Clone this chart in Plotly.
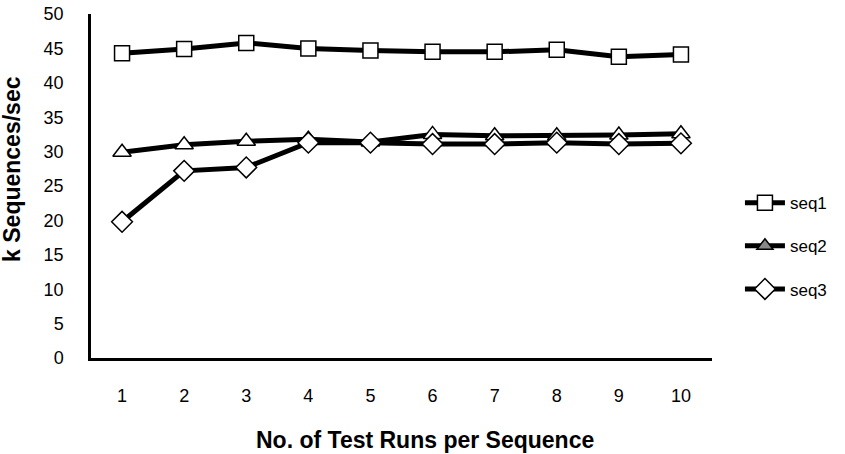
import plotly.graph_objects as go

runs = [1, 2, 3, 4, 5, 6, 7, 8, 9, 10]
seq1 = [44.3, 44.9, 45.8, 45.0, 44.7, 44.5, 44.5, 44.8, 43.8, 44.1]
seq2 = [29.9, 31.0, 31.5, 31.8, 31.4, 32.5, 32.3, 32.3, 32.4, 32.6]
seq3 = [19.8, 27.2, 27.7, 31.3, 31.3, 31.1, 31.1, 31.3, 31.1, 31.2]

x_labels = [str(r) for r in runs]
line_style = dict(color="black", width=5)

fig = go.Figure()

fig.add_trace(go.Scatter(
    x=x_labels, y=seq1, name="seq1", mode="lines+markers",
    line=line_style, legendgroup="g1", legendrank=1,
    marker=dict(symbol="square", size=15, color="white",
                line=dict(color="black", width=1.5)),
))
fig.add_trace(go.Scatter(
    x=x_labels, y=seq2, name="seq2", mode="lines+markers",
    line=line_style, showlegend=False,
    marker=dict(symbol="triangle-up", size=16, color="white",
                line=dict(color="black", width=1.5)),
))
fig.add_trace(go.Scatter(
    x=x_labels, y=seq3, name="seq3", mode="lines+markers",
    line=line_style, legendgroup="g3", legendrank=3,
    marker=dict(symbol="diamond", size=16, color="white",
                line=dict(color="black", width=1.5)),
))
# legend entry for seq2 uses a shaded triangle
fig.add_trace(go.Scatter(
    x=[None], y=[None], name="seq2", mode="lines+markers",
    line=line_style, legendgroup="g2", legendrank=2,
    marker=dict(symbol="triangle-up", size=14, color="#888888",
                line=dict(color="black", width=1.5)),
))

fig.update_layout(
    width=845, height=454,
    margin=dict(l=91, r=133, t=14, b=96, autoexpand=False),
    paper_bgcolor="white", plot_bgcolor="white",
    font=dict(family="Liberation Sans, Arial, sans-serif", size=18, color="black"),
    showlegend=True,
    legend=dict(
        x=1.045, y=0.325, xanchor="left", yanchor="middle",
        traceorder="grouped", font=dict(size=17),
        itemwidth=40, tracegroupgap=18,
        bgcolor="rgba(0,0,0,0)",
    ),
    xaxis=dict(
        type="category", categoryorder="array", categoryarray=x_labels,
        range=[-0.5, 9.5], automargin=False,
        showline=True, linecolor="black", linewidth=2.5,
        showgrid=False, zeroline=False, ticks="",
        ticklabelstandoff=20,
    ),
    yaxis=dict(
        range=[0, 50], dtick=5, automargin=False,
        showline=True, linecolor="black", linewidth=2.5,
        showgrid=False, zeroline=False, ticks="",
        ticklabelstandoff=21,
    ),
    annotations=[
        dict(
            text="<b>No. of Test Runs per Sequence</b>",
            xref="paper", yref="paper",
            x=0.538, y=-0.238, xanchor="center", yanchor="middle",
            showarrow=False, font=dict(size=23),
        ),
        dict(
            text="<b>k Sequences/sec</b>", textangle=-90,
            xref="paper", yref="paper",
            x=-0.127, y=0.55, xanchor="center", yanchor="middle",
            showarrow=False, font=dict(size=23),
        ),
    ],
)

fig.write_html("out.html")
